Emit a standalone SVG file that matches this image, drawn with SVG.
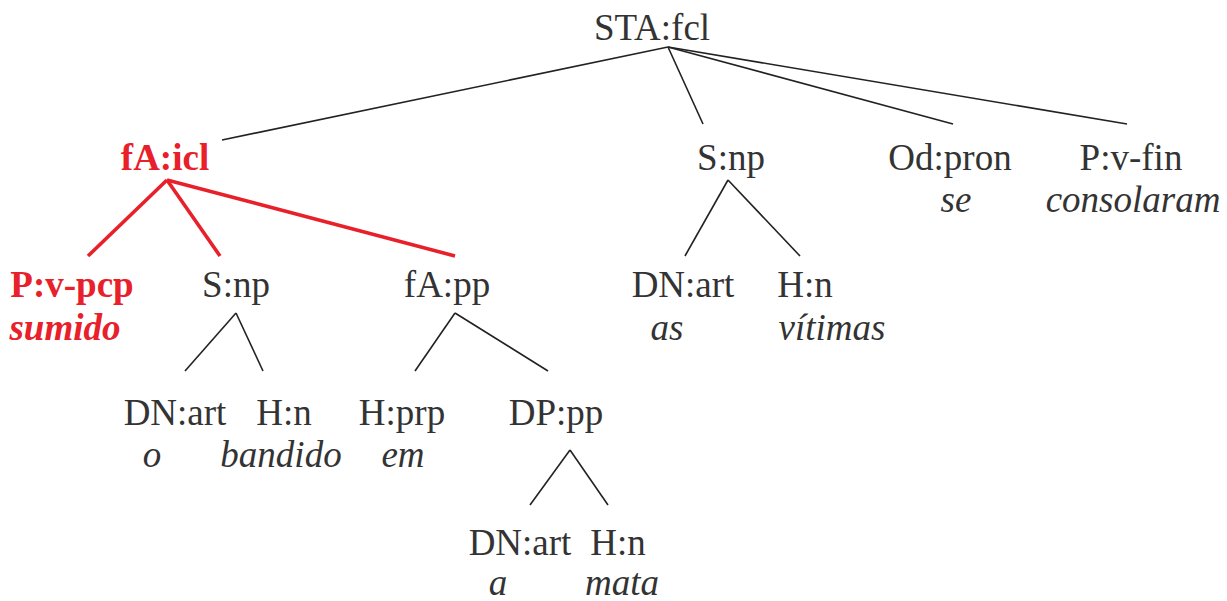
<svg xmlns="http://www.w3.org/2000/svg" width="1227" height="601" viewBox="0 0 1227 601">
<style>
text{font-size:37px;fill:#333;text-anchor:middle}
.w{font-style:italic}
.r{fill:#e8202a}
.b{font-weight:bold}
.e line{stroke:#222;stroke-width:1.6}
.e .red{stroke:#e8202a;stroke-width:3.6}
</style>
<rect width="1227" height="601" fill="#fff"/>
<g class="e" id="connectors">
<line x1="668" y1="47" x2="222" y2="140"/>
<line x1="668" y1="47" x2="703" y2="124"/>
<line x1="668" y1="47" x2="953" y2="124"/>
<line x1="668" y1="47" x2="1127" y2="124"/>
<line class="red" x1="167" y1="180" x2="88" y2="256"/>
<line class="red" x1="167" y1="180" x2="220" y2="256"/>
<line class="red" x1="167" y1="180" x2="455" y2="256"/>
<line x1="728" y1="180" x2="685" y2="256"/>
<line x1="728" y1="180" x2="800" y2="256"/>
<line x1="236" y1="313" x2="185" y2="371"/>
<line x1="236" y1="313" x2="263" y2="371"/>
<line x1="455" y1="313" x2="415" y2="371"/>
<line x1="455" y1="313" x2="548" y2="371"/>
<line x1="570" y1="450" x2="530" y2="505"/>
<line x1="570" y1="450" x2="608" y2="505"/>
</g>
<g id="sta"><text font-family="Liberation Serif" x="652" y="40">STA:fcl</text></g>
<g id="fa-icl"><text font-family="Liberation Serif" class="r b" x="165" y="170">fA:icl</text></g>
<g id="s-np-1"><text font-family="Liberation Serif" x="731" y="170">S:np</text></g>
<g id="od-pron"><text font-family="Liberation Serif" x="950" y="170">Od:pron</text><text font-family="Liberation Serif" class="w" x="956" y="212">se</text></g>
<g id="p-vfin"><text font-family="Liberation Serif" x="1131" y="170">P:v-fin</text><text font-family="Liberation Serif" class="w" x="1133" y="212">consolaram</text></g>
<g id="p-vpcp"><text font-family="Liberation Serif" class="r b" x="72" y="297">P:v-pcp</text><text font-family="Liberation Serif" class="r b w" x="65" y="340">sumido</text></g>
<g id="s-np-2"><text font-family="Liberation Serif" x="236" y="297">S:np</text></g>
<g id="fa-pp"><text font-family="Liberation Serif" x="447" y="297">fA:pp</text></g>
<g id="dn-art-1"><text font-family="Liberation Serif" x="683" y="297">DN:art</text><text font-family="Liberation Serif" class="w" x="667" y="340">as</text></g>
<g id="h-n-1"><text font-family="Liberation Serif" x="805" y="297">H:n</text><text font-family="Liberation Serif" class="w" x="832" y="340">vítimas</text></g>
<g id="dn-art-2"><text font-family="Liberation Serif" x="175" y="425">DN:art</text><text font-family="Liberation Serif" class="w" x="152" y="467">o</text></g>
<g id="h-n-2"><text font-family="Liberation Serif" x="284" y="425">H:n</text><text font-family="Liberation Serif" class="w" x="281" y="467">bandido</text></g>
<g id="h-prp"><text font-family="Liberation Serif" x="402" y="425">H:prp</text><text font-family="Liberation Serif" class="w" x="403" y="467">em</text></g>
<g id="dp-pp"><text font-family="Liberation Serif" x="556" y="425">DP:pp</text></g>
<g id="dn-art-3"><text font-family="Liberation Serif" x="520" y="555">DN:art</text><text font-family="Liberation Serif" class="w" x="498" y="595">a</text></g>
<g id="h-n-3"><text font-family="Liberation Serif" x="618" y="555">H:n</text><text font-family="Liberation Serif" class="w" x="622" y="595">mata</text></g>
</svg>
